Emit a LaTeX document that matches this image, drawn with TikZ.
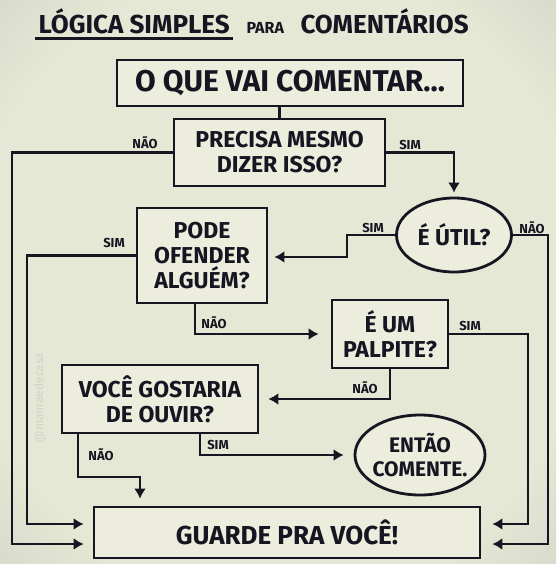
\documentclass[tikz,border=0pt]{standalone}
\usepackage{fontspec}
\setmainfont{Fira Sans}
\usetikzlibrary{shapes.geometric,arrows.meta}
\definecolor{ink}{RGB}{22,22,34}
\definecolor{paper}{RGB}{236,237,220}
\definecolor{wall}{RGB}{150,158,162}
\definecolor{glow}{RGB}{229,232,212}
\definecolor{markgray}{RGB}{206,212,200}
\pgfdeclareradialshading{paperlight}{\pgfpoint{0bp}{0bp}}{color(0bp)=(glow); color(28bp)=(glow); color(72bp)=(wall)}

\tikzset{
  box/.style={draw=ink, line width=2.8pt, fill=paper, align=center, text=ink, inner sep=0pt, font=\bfseries\fontsize{23}{25}\selectfont},
  oval/.style={box, ellipse},
  lbl/.style={text=ink, font=\bfseries\fontsize{13}{13}\selectfont},
  link/.style={draw=ink, line width=2.8pt},
  flow/.style={link, -{Latex[length=10pt,width=12pt]}}
}

\begin{document}
\begin{tikzpicture}[x=1pt,y=-1pt]
\shade[shading=paperlight] (0,0) rectangle (556,564);
\useasboundingbox (0,0) rectangle (556,564);

\node[rotate=90, text=markgray, font=\fontsize{12}{12}\selectfont] (mark) at (40,398) {@mamaedecasa};

\node[anchor=base west, text=ink, font=\bfseries\fontsize{26}{26}\selectfont] (title) at (35,34) {LÓGICA SIMPLES};
\draw[link, line width=3pt] ([yshift=-5pt]title.base west) -- ([yshift=-5pt]title.base east);
\node[anchor=base west, text=ink, font=\bfseries\fontsize{16}{16}\selectfont] (para) at (243,34) {PARA};
\node[anchor=base west, text=ink, font=\bfseries\fontsize{26}{26}\selectfont] (coment) at (297,34) {COMENTÁRIOS};

\node[box, minimum width=346, minimum height=46, font=\bfseries\fontsize{30}{30}\selectfont] (start) at (290,83) {O QUE VAI COMENTAR...};
\node[box, minimum width=211, minimum height=67] (need) at (279.5,152.5) {PRECISA MESMO\\DIZER ISSO?};
\node[oval, minimum width=115, minimum height=74] (useful) at (454,235) {É ÚTIL?};
\node[box, minimum width=130, minimum height=95] (offend) at (202,255.5) {PODE\\OFENDER\\ALGUÉM?};
\node[box, minimum width=116, minimum height=68] (guess) at (390,334) {É UM\\PALPITE?};
\node[box, minimum width=196, minimum height=68] (hear) at (160,399) {VOCÊ GOSTARIA\\DE OUVIR?};
\node[oval, inner xsep=-8pt, minimum width=130, minimum height=80, font=\bfseries\fontsize{21}{24}\selectfont] (go) at (420,455) {ENTÃO\\COMENTE.};
\node[box, minimum width=386, minimum height=51, font=\bfseries\fontsize{26}{26}\selectfont] (keep) at (287,532.5) {GUARDE PRA VOCÊ!};

\coordinate (railA) at (12,544);
\coordinate (railB) at (27,524);
\coordinate (railC) at (528,524);
\coordinate (railD) at (548,544);
\coordinate (stepA) at (347,257);
\coordinate (stepB) at (195,334);
\coordinate (stepC) at (78,477);
\coordinate (stepD) at (140,477);
\coordinate (stepE) at (200,455);

\draw[link] (need.north) -- (need.north |- start.south);
\draw[flow, shorten >=9pt] (need.west) -| (railA) -- (railA -| keep.west);
\draw[flow, shorten >=4pt] (need.east) -| (useful.north);
\draw[flow, shorten >=6pt] (useful.west) -| (stepA) -- (stepA -| offend.east);
\draw[flow, shorten >=11pt] (useful.east) -| (railD) -- (railD -| keep.east);
\draw[flow, shorten >=9pt] (offend.west) -| (railB) -- (railB -| keep.west);
\draw[flow, shorten >=12pt] (offend.south -| stepB) -- (stepB) -- (guess.west);
\draw[flow, shorten >=11pt] (guess.east) -| (railC) -- (railC -| keep.east);
\draw[flow, shorten >=9pt] (guess.south) |- (hear.east);
\draw[flow, shorten >=7pt] (hear.south -| stepC) -- (stepC) -- (stepD) -- (stepD |- keep.north);
\draw[flow, shorten >=10pt] (hear.south -| stepE) -- (stepE) -- (stepE -| go.west);

\node[lbl] (no1) at (145,143) {NÃO};
\node[lbl] (yes1) at (410,145) {SIM};
\node[lbl] (yes2) at (373,228) {SIM};
\node[lbl] (no2) at (532,228) {NÃO};
\node[lbl] (yes3) at (114,243) {SIM};
\node[lbl] (no3) at (214,323) {NÃO};
\node[lbl] (yes4) at (470,326) {SIM};
\node[lbl] (no4) at (365,388) {NÃO};
\node[lbl] (no5) at (101,455) {NÃO};
\node[lbl] (yes5) at (218,445) {SIM};
\end{tikzpicture}
\end{document}
